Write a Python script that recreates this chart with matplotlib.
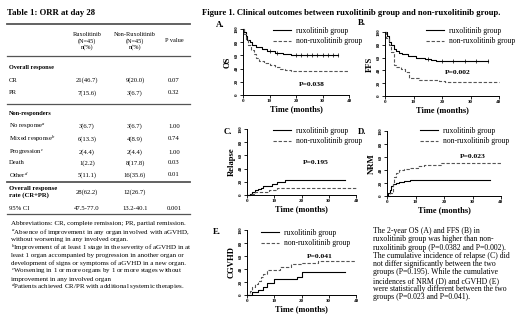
import matplotlib
matplotlib.use("Agg")
import matplotlib.pyplot as plt
from matplotlib.lines import Line2D

plt.rcParams['font.family'] = ['Liberation Serif', 'DejaVu Serif']
plt.rcParams['mathtext.fontset'] = 'custom'
plt.rcParams['mathtext.rm'] = 'Liberation Serif'
plt.rcParams['mathtext.it'] = 'Liberation Serif:italic'
plt.rcParams['mathtext.bf'] = 'Liberation Serif:bold'

# ---------------- data: table ----------------
table_title = "Table 1: ORR at day 28"
col_headers = ["Ruxolitinib\n(N=45)\nn(%)", "Non-Ruxolitinib\n(N=45)\nn(%)", "P value"]
overall_labels = ["CR", "PR"]
overall_rux = ["21(46.7)", "7(15.6)"]
overall_non = ["9(20.0)", "3(6.7)"]
overall_p = ["0.07", "0.32"]
nonresp_labels = ["No response", "Mixed response", "Progression", "Death", "Other"]
nonresp_sup = ["a", "b", "c", "", "d"]
nonresp_rux = ["3(6.7)", "6(13.3)", "2(4.4)", "1(2.2)", "5(11.1)"]
nonresp_non = ["3(6.7)", "4(8.9)", "2(4.4)", "8(17.8)", "16(35.6)"]
nonresp_p = ["1.00", "0.74", "1.00", "0.03", "0.01"]
orr_vals = ["28(62.2)", "12(26.7)", ""]
ci_vals = ["47.5-77.0", "13.2-40.1", "0.001"]
footnotes = [
    "Abbreviations: CR, complete remission; PR, partial remission.",
    "$^{a}$Absence of improvement in any organ involved with aGVHD,",
    "without worsening in any involved organ.",
    "$^{b}$Improvement of at least 1 stage in the severity of aGVHD in at",
    "least 1 organ accompanied by progression in another organ or",
    "development of signs or symptoms of aGVHD in a new organ.",
    "$^{c}$Worsening in 1 or more organs by 1 or more stages without",
    "improvement in any involved organ",
    "$^{d}$Patients achieved CR/PR with additional systemic therapies.",
]

# ---------------- data: curves ----------------
os_rux_t = [0, 0.5, 1, 1.5, 2.5, 3.5, 5, 7, 9, 12, 15, 18, 36]
os_rux_v = [100, 95, 89, 84, 80, 76, 72, 69, 66, 64, 62, 60, 60]
os_rux_cens = [10, 13, 20, 22, 24, 26, 28, 30, 32, 34, 36]
os_non_t = [0, 0.5, 1, 2, 3, 4, 5, 6, 8, 10, 12, 14, 16, 18, 40]
os_non_v = [100, 92, 84, 76, 68, 62, 56, 52, 48, 45, 42, 40, 38, 36, 36]

fs_rux_t = [0, 0.7, 1.5, 2, 3, 4, 5, 6, 8, 11, 14, 16, 18, 36]
fs_rux_v = [100, 93, 85, 80, 74, 70, 67, 65, 63, 60, 58, 56, 54, 54]
fs_rux_cens = [15, 20, 24, 28, 32, 36]
fs_non_t = [0, 0.5, 1.5, 2.2, 3, 4, 5.5, 7, 8.5, 12, 19, 21, 40]
fs_non_v = [100, 90, 80, 68, 48, 45, 42, 37, 28, 25, 24, 22, 22]

rel_rux_t = [0, 1, 2, 3, 4, 5, 6, 9, 11, 14, 36]
rel_rux_v = [0, 2, 4, 7, 9, 11, 14, 16, 20, 22, 22]
rel_non_t = [0, 1, 3, 8, 11, 40]
rel_non_v = [0, 2, 4, 7, 10, 10]

nrm_rux_t = [0, 0.5, 1, 1.5, 2.2, 3, 4.3, 6, 8, 36]
nrm_rux_v = [0, 4, 9, 16, 18, 20, 22, 23, 25, 25]
nrm_non_t = [0, 1, 2, 2.5, 3, 4.3, 6, 8, 11, 13, 19, 40]
nrm_non_v = [0, 4, 18, 30, 36, 40, 42, 43, 46, 47, 51, 51]

cg_rux_t = [0, 2, 4, 6, 7.5, 10, 17, 18.5, 20, 36]
cg_rux_v = [0, 4, 8, 12, 18, 24, 24, 28, 35, 35]
cg_non_t = [0, 1, 2, 3, 4, 5, 6, 7.5, 12, 16, 20, 26, 40]
cg_non_v = [0, 6, 12, 17, 22, 27, 32, 38, 43, 47, 50, 53, 53]

series_labels = ["ruxolitinib group", "non-ruxolitinib group"]
panel_ylabels = ["OS", "FFS", "Relapse", "NRM", "CGVHD"]
panel_letters = ["A.", "B.", "C.", "D.", "E."]
p_values = ["P=0.038", "P=0.002", "P=0.195", "P=0.023", "P=0.041"]
xticks = [0, 10, 20, 30, 40]
yticks = [0, 20, 40, 60, 80, 100]

fig_title = "Figure 1. Clinical outcomes between ruxolitinib group and non-ruxolitinib group."
summary = [
    "The 2-year OS (A) and FFS (B) in",
    "ruxolitinib group was higher than non-",
    "ruxolitinib group (P=0.0382 and P=0.002).",
    "The cumulative incidence of relapse (C) did",
    "not differ significantly between the two",
    "groups (P=0.195). While the cumulative",
    "incidences of NRM (D) and cGVHD (E)",
    "were statistically different between the two",
    "groups (P=0.023 and P=0.041).",
]

# ---------------- layout helpers ----------------
W, H = 520, 320
fig = plt.figure(figsize=(W / 100, H / 100), dpi=100)


def fx(x):
    return x / W


def fy(y):
    return 1 - y / H


def T(x, y, s, **kw):
    kw.setdefault('va', 'center')
    return fig.text(fx(x), fy(y), s, **kw)


def hline(y, x0, x1, lw=0.8, color='#555555'):
    fig.add_artist(Line2D([fx(x0), fx(x1)], [fy(y), fy(y)], transform=fig.transFigure,
                          lw=lw, color=color))


# ---------------- table ----------------
T(7, 13, table_title, fontsize=6.3, fontweight='bold')
hline(24, 7, 190, lw=1.3)
colx = [87, 135, 174]
for cx, h in zip(colx, col_headers):
    T(cx, 41, h, fontsize=4.5, ha='center', linespacing=1.25)
hline(56, 7, 190, lw=0.9)
fs_tab = 4.8
fs_bold = 4.5
T(9, 67, "Overall response", fontsize=fs_bold, fontweight='bold')
rows_y = [80, 93]
for y, lab, a, b, p in zip(rows_y, overall_labels, overall_rux, overall_non, overall_p):
    T(9, y, lab, fontsize=fs_tab)
    for cx, v in zip(colx, [a, b, p]):
        T(cx, y, v, fontsize=fs_tab, ha='center')
hline(104, 7, 190, lw=0.9)
T(9, 114, "Non-responders", fontsize=fs_bold, fontweight='bold')
rows_y = [126, 139, 152, 163, 175]
for y, lab, sup, a, b, p in zip(rows_y, nonresp_labels, nonresp_sup, nonresp_rux, nonresp_non, nonresp_p):
    T(9, y, lab + (r"$^{%s}$" % sup if sup else ""), fontsize=fs_tab)
    for cx, v in zip(colx, [a, b, p]):
        T(cx, y, v, fontsize=fs_tab, ha='center')
hline(182, 7, 190, lw=1.3)
T(9, 192, "Overall response\nrate (CR+PR)", fontsize=4.8, fontweight='bold', linespacing=1.15)
for cx, v in zip(colx, orr_vals):
    T(cx, 192, v, fontsize=fs_tab, ha='center')
T(9, 208, "95% CI", fontsize=fs_tab)
for cx, v in zip(colx, ci_vals):
    T(cx, 208, v, fontsize=fs_tab, ha='center')
hline(214, 7, 190, lw=0.9)
for i, line in enumerate(footnotes):
    T(11, 224 + i * 7.9, line, fontsize=5.0)

# ---------------- figure title ----------------
T(202, 13, fig_title, fontsize=6.2, fontweight='bold')

# ---------------- KM panels ----------------
panels = [
    dict(box=(243, 29, 349, 95), rux=(os_rux_t, os_rux_v), non=(os_non_t, os_non_v), cens=os_rux_cens,
         leg=(273, 27), p=(312, 84), let=(220, 25)),
    dict(box=(385, 32, 499, 96), rux=(fs_rux_t, fs_rux_v), non=(fs_non_t, fs_non_v), cens=fs_rux_cens,
         leg=(426, 27), p=(458, 73), let=(362, 23)),
    dict(box=(247, 129, 356, 195), rux=(rel_rux_t, rel_rux_v), non=(rel_non_t, rel_non_v), cens=[],
         leg=(273, 127), p=(316, 162), let=(228, 132)),
    dict(box=(387, 131, 501, 196), rux=(nrm_rux_t, nrm_rux_v), non=(nrm_non_t, nrm_non_v), cens=[],
         leg=(420, 127), p=(473, 157), let=(362, 132)),
    dict(box=(247, 230, 356, 295), rux=(cg_rux_t, cg_rux_v), non=(cg_non_t, cg_non_v), cens=[],
         leg=(261, 229), p=(320, 257), let=(217, 232)),
]

dash_style = (0, (3.0, 1.6))
for i, pnl in enumerate(panels):
    x0, y0, x1, y1 = pnl['box']
    ax = fig.add_axes([fx(x0), fy(y1), (x1 - x0) / W, (y1 - y0) / H])
    rt, rv = pnl['rux']
    nt, nv = pnl['non']
    ax.step(rt, rv, where='post', color='black', lw=0.8, label=series_labels[0], clip_on=False)
    ax.step(nt, nv, where='post', color='#555555', lw=0.8, linestyle=dash_style,
            label=series_labels[1], clip_on=False)
    if pnl['cens']:
        cy = [rv[max(j for j, tt in enumerate(rt) if tt <= c)] for c in pnl['cens']]
        ax.plot(pnl['cens'], cy, linestyle='none', marker='|', ms=2.2, mew=0.5, color='black')
    ax.set_xlim(0, 40)
    ax.set_ylim(0, 100)
    ax.set_xticks(xticks)
    ax.set_yticks(yticks)
    ax.set_xticklabels([str(v) for v in xticks], fontsize=3.6, fontweight='bold')
    ax.set_yticklabels([str(v) for v in yticks], fontsize=3.6, fontweight='bold',
                       rotation=90, va='center')
    ax.tick_params(length=2, width=0.6, pad=1.2)
    for s in ['top', 'right']:
        ax.spines[s].set_visible(False)
    for s in ['left', 'bottom']:
        ax.spines[s].set_linewidth(0.7)
    ax.set_xlabel("Time (months)", fontsize=6.0, fontweight='bold', labelpad=1.5)
    ax.set_ylabel(panel_ylabels[i], fontsize=6.2, fontweight='bold', labelpad=2)
    ax.patch.set_alpha(0)
    lx, ly = pnl['leg']
    ax.legend(loc='upper left', bbox_to_anchor=(fx(lx), fy(ly)), bbox_transform=fig.transFigure,
              frameon=False, fontsize=5.5, handlelength=2.4, handletextpad=0.6,
              labelspacing=0.3, borderpad=0, borderaxespad=0)
    px_, py_ = pnl['p']
    T(px_, py_, p_values[i], fontsize=5.4, fontweight='bold', ha='center')
    lx2, ly2 = pnl['let']
    T(lx2, ly2, panel_letters[i], fontsize=6.3, fontweight='bold', ha='center')

# ---------------- summary paragraph ----------------
for i, line in enumerate(summary):
    T(373, 231 + i * 8.3, line, fontsize=5.6)

fig.savefig("out.png", dpi=100)
